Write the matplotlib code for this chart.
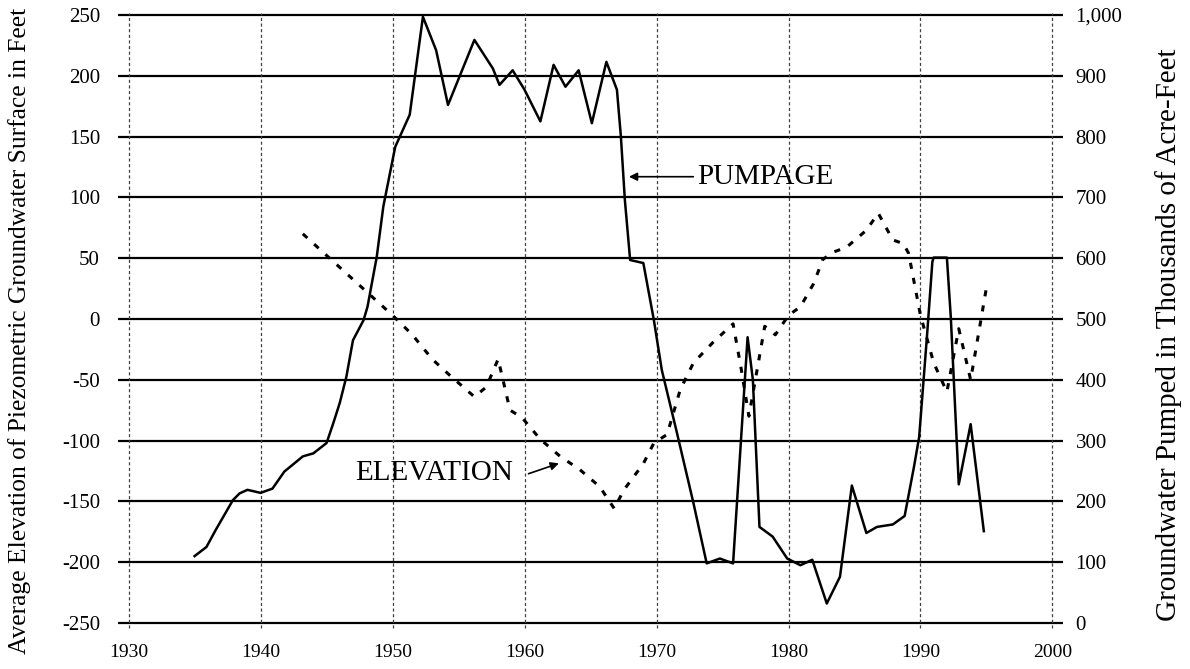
"""Groundwater elevation vs. pumpage, 1930-2000 (twin y axes)."""

import matplotlib
matplotlib.use("Agg")
import matplotlib.pyplot as plt

plt.rcParams.update({"font.family": ["Liberation Serif", "DejaVu Serif"],
                     "axes.unicode_minus": False})

# pumpage, thousands of acre-feet (right axis)
pump_years = [1935.0, 1935.9, 1936.6, 1937.9, 1938.4, 1939.0, 1940.0, 1940.9, 1941.8, 1943.2,
              1944.0, 1945.0, 1945.5, 1946.0, 1946.5, 1947.0, 1947.8, 1948.1, 1948.8, 1949.3,
              1950.2, 1951.3, 1952.3, 1953.3, 1954.2, 1956.2, 1957.6, 1958.1, 1959.1, 1960.0,
              1961.2, 1962.2, 1963.1, 1964.1, 1965.1, 1966.2, 1967.0, 1967.3, 1967.6, 1968.0,
              1969.0, 1969.8, 1970.4, 1971.5, 1972.8, 1973.8, 1974.8, 1975.8, 1976.9, 1977.3,
              1977.8, 1978.8, 1979.9, 1980.9, 1981.8, 1982.9, 1983.9, 1984.8, 1985.9, 1986.7,
              1987.9, 1988.8, 1989.5, 1989.9, 1990.5, 1990.9, 1991.0, 1992.0, 1992.3, 1992.9,
              1993.8, 1994.8]
pump_kaf = [110, 125, 153, 202, 213, 219, 214, 221, 249, 274,
            279, 296, 328, 362, 405, 465, 498, 520, 602, 685,
            783, 836, 997, 942, 852, 959, 912, 885, 909, 877,
            825, 918, 882, 909, 822, 923, 877, 800, 696, 597,
            592, 498, 416, 317, 197, 98, 106, 98, 470, 400,
            158, 142, 106, 95, 104, 32, 76, 226, 148, 158,
            162, 176, 256, 306, 474, 594, 601, 601, 502, 228,
            327, 151]

# average piezometric elevation, feet (left axis)
elev_years = [1943.2, 1950.0, 1951.5, 1953.0, 1954.2, 1956.2, 1957.1, 1958.0, 1958.9, 1959.8,
              1961.2, 1962.7, 1964.2, 1965.7, 1966.8, 1967.5, 1969.0, 1969.8, 1970.8, 1971.8,
              1972.8, 1974.3, 1975.8, 1976.4, 1977.0, 1977.6, 1978.2, 1979.0, 1980.0, 1980.9,
              1981.9, 1982.6, 1983.4, 1984.4, 1985.9, 1986.8, 1987.9, 1988.7, 1989.1, 1990.0,
              1991.0, 1992.0, 1992.9, 1993.8, 1995.0]
elev_ft = [70, 3, -13, -33, -45, -64, -56, -33, -75, -81,
           -99, -113, -124, -138, -156, -141, -119, -102, -95, -58,
           -36, -19, -4, -40, -80, -43, -6, -13, 3, 10,
           29, 49, 55, 59, 73, 87, 65, 62, 54, 3,
           -36, -60, -8, -50, 26]

left_ticks = [-250, -200, -150, -100, -50, 0, 50, 100, 150, 200, 250]
right_ticks = [0, 100, 200, 300, 400, 500, 600, 700, 800, 900, 1000]
right_labels = ["0", "100", "200", "300", "400", "500", "600", "700", "800", "900", "1,000"]
decades = [1930, 1940, 1950, 1960, 1970, 1980, 1990, 2000]

TICK_FS = 15


def main():
    fig = plt.figure(figsize=(11.9, 6.69), dpi=100)
    ax = fig.add_axes([0.0992, 0.0688, 0.7941, 0.9088])
    ax.set_xlim(1929.2, 2000.8)
    ax.set_ylim(-250, 250)
    ax2 = ax.twinx()
    ax2.set_ylim(0, 1000)

    for a in (ax, ax2):
        for s in a.spines.values():
            s.set_visible(False)

    # grid: heavy horizontals, thin dashed decade verticals
    ax.hlines(left_ticks, 1929.2, 2000.8, colors="black", lw=1.6, clip_on=False, zorder=1)
    ax.vlines(decades, -254, 252, colors="0.25", lw=0.9, linestyles=(0, (2.5, 2)),
              clip_on=False, zorder=1)

    ax.set_xticks(decades)
    ax.set_yticks(left_ticks)
    ax2.set_yticks(right_ticks)
    ax2.set_yticklabels(right_labels)
    ax.tick_params(axis="x", length=0, pad=15, labelsize=14)
    ax.tick_params(axis="y", length=0, pad=13, labelsize=TICK_FS)
    ax2.tick_params(axis="y", length=0, pad=9, labelsize=TICK_FS)

    ax2.plot(pump_years, pump_kaf, color="black", lw=1.8, zorder=3)
    ax.plot(elev_years, elev_ft, color="black", lw=2.2, linestyle=(0, (2, 3)), zorder=3)

    ax.annotate("", xy=(1967.7, 117), xytext=(1973.0, 117),
                arrowprops=dict(arrowstyle="-|>", color="black", lw=1.2, mutation_scale=12))
    ax.text(1973.1, 117, "PUMPAGE", fontsize=21, ha="left", va="center")
    ax.annotate("", xy=(1962.8, -118), xytext=(1960.1, -128),
                arrowprops=dict(arrowstyle="-|>", color="black", lw=1.2, mutation_scale=12))
    ax.text(1947.2, -127, "ELEVATION", fontsize=21, ha="left", va="center")

    fig.text(0.016, 0.505, "Average Elevation of Piezometric Groundwater Surface in Feet",
             rotation=90, ha="center", va="center", fontsize=18.4)
    fig.text(0.982, 0.50, "Groundwater Pumped in Thousands of Acre-Feet",
             rotation=90, ha="center", va="center", fontsize=21)

    fig.savefig("out.png", dpi=100)
    plt.close(fig)


if __name__ == "__main__":
    main()
